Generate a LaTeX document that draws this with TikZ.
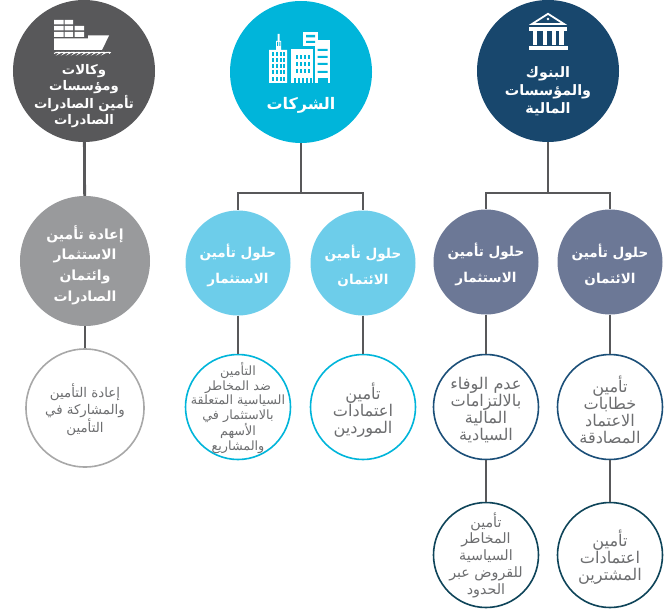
\documentclass[tikz,border=0pt]{standalone}
\usepackage{fontspec}
\TeXXeTstate=1
\newfontfamily\arfont[Script=Arabic]{DejaVu Sans}
\definecolor{cgrey}{HTML}{58585A}
\definecolor{ccyan}{HTML}{00B5DA}
\definecolor{cnavy}{HTML}{18476D}
\definecolor{cmidg}{HTML}{999A9C}
\definecolor{clight}{HTML}{6DCDEA}
\definecolor{cslate}{HTML}{6C7896}
\definecolor{coutg}{HTML}{A8A8A8}
\definecolor{coutn}{HTML}{1B4F78}
\definecolor{coutt}{HTML}{0E4459}
\definecolor{ctext}{HTML}{6D6E70}
\newcommand{\R}[1]{\beginR #1\endR}
\tikzset{
  base/.style={circle,inner sep=0pt},
  topc/.style={base,minimum size=142bp},
  midc/.style={base,minimum size=105bp},
  outc/.style={base,minimum size=105bp,draw,line width=1.6bp,fill=white},
  toptext/.style={inner sep=0pt,align=center,text=white,font=\arfont\bfseries\fontsize{13.3}{16.3}\selectfont},
  midtext/.style={inner sep=0pt,align=center,text=white,font=\arfont\bfseries\fontsize{13.6}{26}\selectfont},
  outtext/.style={inner sep=0pt,align=center,text=ctext,font=\arfont\fontsize{16.2}{17.2}\selectfont},
  link/.style={draw=cgrey,line width=2.8bp},
  ic/.style={fill=white,draw=none}
}
\begin{document}
\begin{tikzpicture}[x=1bp,y=-1bp]
\useasboundingbox (0,0) rectangle (672,609);
% circles
\node[topc,fill=cgrey] (g0) at (84,71) {};
\node[topc,fill=ccyan] (c0) at (301,72) {};
\node[topc,fill=cnavy] (n0) at (548,71) {};
\node[midc,fill=cmidg,minimum size=130bp] (g1) at (85,261) {};
\node[midc,fill=clight] (c1) at (238,263) {};
\node[midc,fill=clight] (c2) at (363,263) {};
\node[midc,fill=cslate] (n1) at (486,262) {};
\node[midc,fill=cslate] (n2) at (610,262) {};
\node[outc,draw=coutg,minimum size=118bp] (g2) at (85,408) {};
\node[outc,draw=ccyan] (c3) at (238,407) {};
\node[outc,draw=ccyan] (c4) at (363,407) {};
\node[outc,draw=coutn] (n3) at (486,407) {};
\node[outc,draw=coutn] (n4) at (610,407) {};
\node[outc,draw=coutt] (n5) at (486,555) {};
\node[outc,draw=coutt] (n6) at (610,555) {};
% connectors
\coordinate (jc) at (301,193);
\coordinate (jn) at (548,193);
\path[link] (g0) -- (g1);
\path[link] (g1) -- (g2);
\path[link] (c0) -- (jc);
\path[link] (jc) -| (c1);
\path[link] (jc) -| (c2);
\path[link] (c1) -- (c3);
\path[link] (c2) -- (c4);
\path[link] (n0) -- (jn);
\path[link] (jn) -| (n1);
\path[link] (jn) -| (n2);
\path[link] (n1) -- (n3);
\path[link] (n2) -- (n4);
\path[link] (n3) -- (n5);
\path[link] (n4) -- (n6);
% texts
\node[toptext] (g0t) at (84,96) {\R{وكالات}\\ \R{ومؤسسات}\\ \R{تأمين الصادرات}\\ \R{الصادرات}};
\node[toptext,font=\arfont\bfseries\fontsize{16}{18}\selectfont] (c0t) at (301,105) {\R{الشركات}};
\node[toptext,font=\arfont\bfseries\fontsize{14.4}{18.3}\selectfont] (n0t) at (548,91) {\R{البنوك}\\ \R{والمؤسسات}\\ \R{المالية}};
\node[midtext,font=\arfont\bfseries\fontsize{14}{20.7}\selectfont] (g1t) at (85,265) {\R{إعادة تأمين}\\ \R{الاستثمار}\\ \R{وائتمان}\\ \R{الصادرات}};
\node[midtext] (c1t) at (238,265) {\R{حلول تأمين}\\ \R{الاستثمار}};
\node[midtext] (c2t) at (363,266) {\R{حلول تأمين}\\ \R{الائتمان}};
\node[midtext] (n1t) at (486,264) {\R{حلول تأمين}\\ \R{الاستثمار}};
\node[midtext] (n2t) at (610,265) {\R{حلول تأمين}\\ \R{الائتمان}};
\node[outtext,font=\arfont\fontsize{13.4}{17}\selectfont] (g2t) at (85,410) {\R{إعادة التأمين}\\ \R{والمشاركة في}\\ \R{التأمين}};
\node[outtext,font=\arfont\fontsize{12.8}{14.5}\selectfont] (c3t) at (238,408) {\R{التأمين}\\ \R{ضد المخاطر}\\ \R{السياسية المتعلقة}\\ \R{بالاستثمار في}\\ \R{الأسهم}\\ \R{والمشاريع}};
\node[outtext] (c4t) at (363,410) {\R{تأمين}\\ \R{اعتمادات}\\ \R{الموردين}};
\node[outtext] (n3t) at (486,410) {\R{عدم الوفاء}\\ \R{بالالتزامات}\\ \R{المالية}\\ \R{السيادية}};
\node[outtext] (n4t) at (610,410) {\R{تأمين}\\ \R{خطابات}\\ \R{الاعتماد}\\ \R{المصادقة}};
\node[outtext,font=\arfont\fontsize{14.3}{16.8}\selectfont] (n5t) at (486,555) {\R{تأمين}\\ \R{المخاطر}\\ \R{السياسية}\\ \R{للقروض عبر}\\ \R{الحدود}};
\node[outtext] (n6t) at (610,557) {\R{تأمين}\\ \R{اعتمادات}\\ \R{المشترين}};
% ship icon
\fill[ic] (54,20) rectangle (63.5,24.5) (64.5,20) rectangle (73,24.5)
 (54,26) rectangle (63.5,30.5) (64.5,26) rectangle (73,30.5) (74.5,26) rectangle (84,30.5)
 (54,32) rectangle (63.5,37) (64.5,32) rectangle (73,37) (74.5,32) rectangle (84,37);
\fill[ic] (54,38.5) -- (88,38.5) -- (88,35.5) -- (109,35.5) -- (102,50) -- (54,50) -- cycle;
\draw[white,line width=1.1bp] (54,53.5) \foreach \i in {0,...,10} { .. controls ++(1.2,-1.6) and ++(3.8,-1.6) .. ++(5,0) };
% buildings icon
\fill[ic] (269,83) rectangle (287,50) (276,50) rectangle (281,41) (277.5,41) rectangle (279.5,34);
\fill[ic] (291,83) rectangle (313,49);
\fill[ic] (303,32) rectangle (318,46);
\fill[ic] (315,40) rectangle (330,83);
\fill[ccyan] (306,35) rectangle (315,37.5) (306,41) rectangle (315,43);
\fill[ccyan] (317.5,49) rectangle (327.5,51) (317.5,56) rectangle (327.5,58) (317.5,63) rectangle (327.5,65) (317.5,71) rectangle (327.5,73);
\fill[ccyan] (317.5,78) -- (327.5,78) -- (327.5,83) -- (317.5,83) -- cycle;
\foreach \y in {52,58,64,70,77} \foreach \x in {271.5,275.5,279.5,283} \fill[ccyan] (\x,\y) rectangle ++(2,3.6);
\foreach \y in {55,62,69} \foreach \x in {296,300,304,308} \fill[ccyan] (\x,\y) rectangle ++(2.3,4);
\foreach \x in {294,298,302,306,310} \fill[ccyan] (\x,78) rectangle ++(2,5);
\fill[ccyan] (277,42) rectangle ++(1,4) (279.3,42) rectangle ++(1,4);
% bank icon
\draw[white,line width=1.8bp,line join=miter] (532,24) -- (548,13.8) -- (564,24) -- cycle;
\fill[white] (548,19) circle (1.4bp);
\fill[ic] (529,27.5) rectangle (567,31);
\foreach \x in {535,545,554,561.5} \fill[ic] (\x-2.2,31) rectangle (\x+2.2,45);
\fill[ic] (529,46) rectangle (568,50);
\end{tikzpicture}
\end{document}
